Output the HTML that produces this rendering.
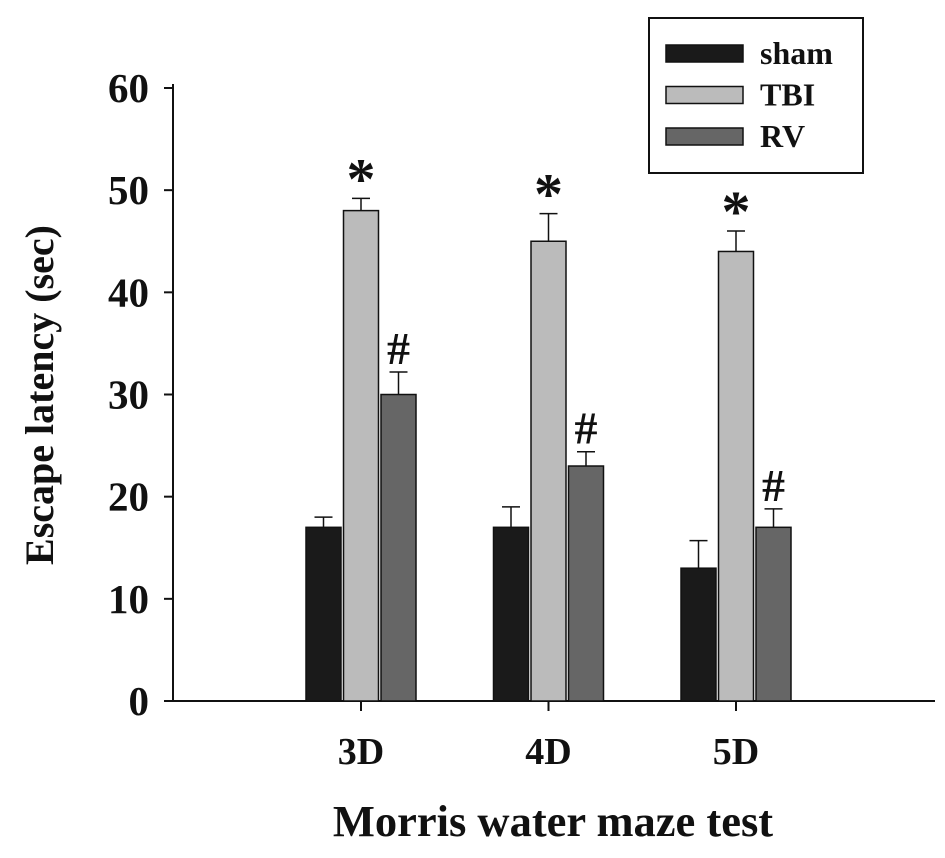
<!DOCTYPE html>
<html><head><meta charset="utf-8"><style>
body{margin:0;background:#fff}
svg text{font-family:"Liberation Serif",serif;font-weight:bold;fill:#111}
</style></head><body>
<svg width="945" height="853" viewBox="0 0 945 853">
<g id="plot"></g>
</svg>
<script>
const categories=["3D","4D","5D"];
const seriesNames=["sham","TBI","RV"];
const shamVals=[17,17,13];
const tbiVals=[48,45,44];
const rvVals=[30,23,17];
const shamErr=[1,2,2.7];
const tbiErr=[1.2,2.7,2];
const rvErr=[2.2,1.4,1.8];
const yTicks=[0,10,20,30,40,50,60];
const tbiMarks=["*","*","*"];
const rvMarks=["#","#","#"];

const NS="http://www.w3.org/2000/svg";
const g=document.getElementById('plot');
const y0=701,pxPer=(701-88)/60;
const y=v=>y0-v*pxPer;
const groupX=i=>361+i*187.5;
const colors=["#1a1a1a","#bbbbbb","#666666"];
function mk(t,a,p){const e=document.createElementNS(NS,t);for(const k in a)e.setAttribute(k,a[k]);(p||g).appendChild(e);return e;}

let e;
e=mk('line',{x1:173,y1:84,x2:173,y2:702,stroke:'#111','stroke-width':2});


e=mk('line',{x1:172,y1:701,x2:935,y2:701,stroke:'#111','stroke-width':2});



yTicks.forEach(v=>{
 let t=mk('line',{x1:164,y1:y(v),x2:173,y2:y(v),stroke:'#111','stroke-width':2});
 
 
 let l=mk('text',{x:149,y:y(v)+14,'text-anchor':'end','font-size':41});
 l.textContent=v;
 
 
});

const vals=[shamVals,tbiVals,rvVals],errs=[shamErr,tbiErr,rvErr];
categories.forEach((c,i)=>{
 const cx=groupX(i);
 let t=mk('line',{x1:cx,y1:701,x2:cx,y2:711,stroke:'#111','stroke-width':2});
 
 
 let l=mk('text',{x:cx,y:764,'text-anchor':'middle','font-size':38});
 l.textContent=c;
 
 
 for(let s=0;s<3;s++){
  const bx=cx-55+s*37.5, w=35, v=vals[s][i], top=y(v), et=y(v+errs[s][i]);
  let eb=mk('line',{x1:bx+w/2,y1:top,x2:bx+w/2,y2:et,stroke:'#111','stroke-width':1.5});
  
  
  let cap=mk('line',{x1:bx+w/2-9,y1:et,x2:bx+w/2+9,y2:et,stroke:'#111','stroke-width':1.5});
  
  
  let r=mk('rect',{x:bx,y:top,width:w,height:y0-top,fill:colors[s],stroke:'#111','stroke-width':1.5});
  
  
  if(s>0){
   const m=s===1?tbiMarks[i]:rvMarks[i];
   let mt=mk('text',{x:bx+w/2,y:s===1?et+0:et-8,'text-anchor':'middle','font-size':s===1?58:46,'font-weight':'normal'});
   mt.textContent=m;
   
   
  }
 }
});

let yt=mk('text',{x:0,y:0,'text-anchor':'middle','font-size':40,transform:'translate(53,395) rotate(-90)'});
yt.textContent='Escape latency (sec)';


let xt=mk('text',{x:553,y:836,'text-anchor':'middle','font-size':44.5});
xt.textContent='Morris water maze test';



let lg=mk('g',{});


mk('rect',{x:649,y:18,width:214,height:155,fill:'#fff',stroke:'#111','stroke-width':2},lg);
seriesNames.forEach((n,s)=>{
 const yy=45+s*41.5;
 let sw=mk('rect',{x:666,y:yy,width:77,height:17,fill:colors[s],stroke:'#111','stroke-width':1.5},lg);
 
 
 let tx=mk('text',{x:760,y:yy+19,'font-size':32},lg);
 tx.textContent=n;
 
 
});
</script>
</body></html>
